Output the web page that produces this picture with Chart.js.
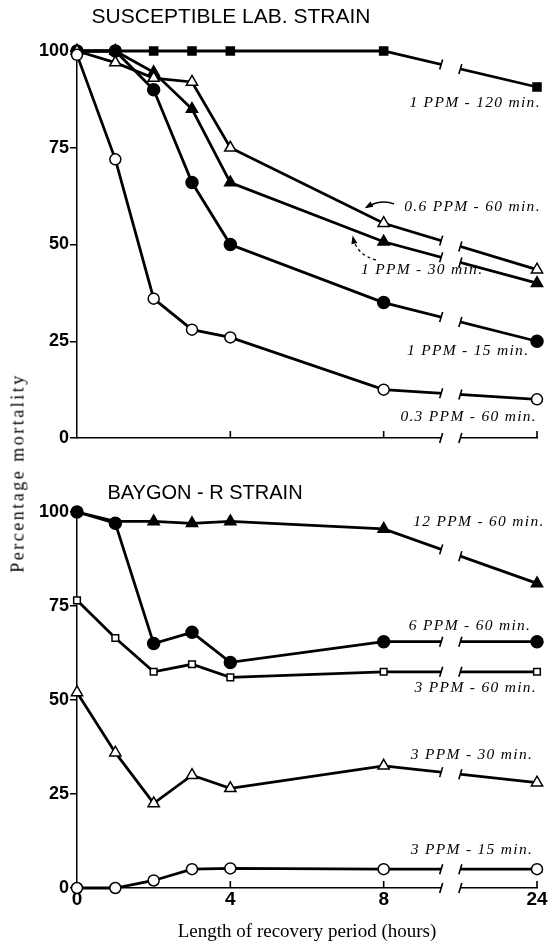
<!DOCTYPE html>
<html>
<head>
<meta charset="utf-8">
<script src="https://cdn.jsdelivr.net/npm/chart.js@4"></script>
<style>
  body { margin: 0; background: #fff; }
  #wrap { position: relative; width: 548px; height: 943px; }
  #c1 { position: absolute; left: 0; top: 0; }
  #c2 { position: absolute; left: 0; top: 470px; }
  #ytitle {
    position: absolute; left: 18px; top: 473px;
    transform: translate(-50%, -50%) rotate(-90deg);
    font: 18px "Liberation Serif", serif; letter-spacing: 2.5px; white-space: nowrap; color: #000;
  }
</style>
</head>
<body>
<div id="wrap">
  <canvas id="c1" width="548" height="470"></canvas>
  <canvas id="c2" width="548" height="473"></canvas>
  <div id="ytitle">Percentage mortality</div>
</div>
<script>
// recovery times (hours); 24 h sits after the axis break
const hours = [0, 1, 2, 3, 4, 8, 24];
const xTickHours = [0, 4, 8, 24];
const xTickLabels = ["0", "4", "8", "24"];
const yTicks = [0, 25, 50, 75, 100];

// susceptible lab. strain, % mortality
const lab03_60 = [99, 72, 36, 28, 26, 12.5, 10];
const lab06_60 = [100, 97, 93, 92, 75, 55.5, 43.5];
const lab1_30 = [100, 100, 94.5, 85, 66, 50.7, 40];
const lab1_15 = [100, 100, 90, 66, 50, 35, 25];
const lab1_120 = [100, 100, 100, 100, 100, 100, 90.7];
const labNotes = ["0.3 PPM - 60 min.", "0.6 PPM - 60 min.", "1 PPM - 30 min.", "1 PPM - 15 min.", "1 PPM - 120 min."];

// baygon-R strain, % mortality
const bay6_60 = [100, 97, 65, 68, 60, 65.5, 65.5];
const bay12_60 = [100, 97.5, 97.5, 97, 97.5, 95.5, 81];
const bay3_60 = [76.5, 66.5, 57.5, 59.5, 56, 57.5, 57.5];
const bay3_30 = [52, 36, 22.5, 30, 26.5, 32.5, 28];
const bay3_15 = [0, 0, 2, 5, 5.2, 5, 5];
const bayNotes = ["6 PPM - 60 min.", "12 PPM - 60 min.", "3 PPM - 60 min.", "3 PPM - 30 min.", "3 PPM - 15 min."];

const BREAK_AT = [9.5, 10];             // cut in the time axis (plot units)
const axisPos = h => (h > 8 ? h - 12 : h); // 24 h is drawn at plot position 12

const pts = vals => hours.map((h, i) => ({ x: axisPos(h), y: vals[i] }));

function series(vals, style, radius, filled, extra) {
  return Object.assign({
    data: pts(vals),
    borderColor: "#000",
    borderWidth: 2.8,
    pointStyle: style,
    pointRadius: radius,
    pointBorderWidth: 1.5,
    pointBorderColor: "#000",
    pointBackgroundColor: filled ? "#000" : "#fff",
    clip: false,
  }, extra || {});
}

// white-out the gap and mark the cut ends of every line and the axis
const cutPlugin = {
  id: "cut",
  afterDatasetsDraw(chart) {
    const { ctx, chartArea: a, scales: { x } } = chart;
    const x1 = x.getPixelForValue(BREAK_AT[0]);
    const x2 = x.getPixelForValue(BREAK_AT[1]);
    ctx.save();
    ctx.fillStyle = "#fff";
    ctx.fillRect(x1, a.top - 14, x2 - x1, a.bottom - a.top + 18);
    ctx.strokeStyle = "#000";
    ctx.lineWidth = 1.6;
    const slash = (px, py) => {
      ctx.beginPath();
      ctx.moveTo(px - 1.5, py + 5);
      ctx.lineTo(px + 1.5, py - 5);
      ctx.stroke();
    };
    chart.data.datasets.forEach((ds, i) => {
      const el = chart.getDatasetMeta(i).data;
      const p = el[el.length - 2], q = el[el.length - 1];
      [x1, x2].forEach(px => slash(px, p.y + (q.y - p.y) * (px - p.x) / (q.x - p.x)));
    });
    slash(x1, a.bottom);
    slash(x2, a.bottom);
    // time ticks point up into the plot
    x.ticks.forEach((t, i) => {
      if (t.value === 0) return;
      const px = x.getPixelForTick(i);
      ctx.beginPath();
      ctx.moveTo(px, a.bottom);
      ctx.lineTo(px, a.bottom - 7);
      ctx.stroke();
    });
    ctx.restore();
  },
};

// panel title, curve labels and pointer arrows
const notesPlugin = {
  id: "notes",
  afterDraw(chart, args, o) {
    const { ctx, scales: { x, y } } = chart;
    const P = ([h, v]) => [x.getPixelForValue(h), y.getPixelForValue(v)];
    ctx.save();
    ctx.fillStyle = "#000";
    ctx.strokeStyle = "#000";
    ctx.font = 'italic 15.5px "Liberation Serif"';
    ctx.letterSpacing = "1.3px";
    ctx.textAlign = "right";
    ctx.textBaseline = "middle";
    o.texts.forEach((t, i) => {
      const [px, py] = P(o.spots[i]);
      ctx.fillText(t, px, py);
    });
    (o.arrows || []).forEach(ar => {
      const [sx, sy] = P(ar.from), [cx, cy] = P(ar.via), [ex, ey] = P(ar.to);
      ctx.lineWidth = 1.3;
      ctx.setLineDash(ar.dashed ? [3, 3] : []);
      ctx.beginPath();
      ctx.moveTo(sx, sy);
      ctx.quadraticCurveTo(cx, cy, ex, ey);
      ctx.stroke();
      ctx.setLineDash([]);
      const ang = Math.atan2(ey - cy, ex - cx);
      ctx.beginPath();
      ctx.moveTo(ex + Math.cos(ang) * 2, ey + Math.sin(ang) * 2);
      ctx.lineTo(ex - Math.cos(ang - 0.45) * 7, ey - Math.sin(ang - 0.45) * 7);
      ctx.lineTo(ex - Math.cos(ang + 0.45) * 7, ey - Math.sin(ang + 0.45) * 7);
      ctx.closePath();
      ctx.fill();
    });
    ctx.letterSpacing = "0px";
    ctx.font = o.titleFont;
    ctx.textAlign = "center";
    ctx.fillText(o.title, o.titleX, o.titleY);
    ctx.restore();
  },
};

function options(showX, padTop, xHeight, notes) {
  return {
    responsive: false,
    animation: false,
    layout: { padding: { top: padTop, right: 11, left: 0, bottom: 0 } },
    plugins: { legend: { display: false }, tooltip: { enabled: false }, notes },
    scales: {
      x: {
        type: "linear", min: 0, max: 12,
        afterBuildTicks: s => { s.ticks = xTickHours.map(h => ({ value: axisPos(h) })); },
        afterFit: s => { s.height = xHeight; },
        border: { display: true, color: "#000", width: 1.5 },
        grid: { display: false, drawTicks: false },
        ticks: {
          display: showX, padding: 0, color: "#000", maxRotation: 0,
          font: { family: "Liberation Sans", weight: "bold", size: 19 },
          callback: v => xTickLabels[xTickHours.map(axisPos).indexOf(v)],
        },
        title: {
          display: showX, text: "Length of recovery period (hours)", color: "#000",
          padding: { top: 0, bottom: 0 },
          font: { family: "Liberation Serif", size: 19 },
        },
      },
      y: {
        min: 0, max: 100,
        afterBuildTicks: s => { s.ticks = yTicks.map(v => ({ value: v })); },
        afterFit: s => { s.width = 77; },
        border: { display: true, color: "#000", width: 1.5 },
        grid: { drawOnChartArea: false, drawTicks: true, tickLength: 7, color: "#000", lineWidth: 1.5 },
        ticks: { padding: 1, color: "#000", font: { family: "Liberation Sans", weight: "bold", size: 18 } },
      },
    },
  };
}

new Chart(document.getElementById("c1"), {
  type: "line",
  data: {
    datasets: [
      series(lab03_60, "circle", 5.5, false),
      series(lab06_60, "triangle", 6.5, false),
      series(lab1_30, "triangle", 6.5, true),
      series(lab1_15, "circle", 6, true),
      series(lab1_120, "rect", 5.7, true),
    ],
  },
  options: options(false, 51, 32, {
    title: "SUSCEPTIBLE LAB. STRAIN", titleX: 231, titleY: 17, titleFont: '21px "Liberation Sans"',
    texts: labNotes,
    spots: [[12, 5.5], [12.1, 59.7], [10.6, 43.5], [11.8, 22.5], [12.1, 86.5]],
    arrows: [
      { from: [8.27, 60.5], via: [7.93, 61.8], to: [7.55, 59.6] },
      { from: [7.8, 46], via: [7.3, 47.3], to: [7.2, 51.8], dashed: true },
    ],
  }),
  plugins: [cutPlugin, notesPlugin],
});

new Chart(document.getElementById("c2"), {
  type: "line",
  data: {
    datasets: [
      series(bay6_60, "circle", 6, true),
      series(bay12_60, "triangle", 6.5, true, { pointRadius: [0, 0, 6.5, 6.5, 6.5, 6.5, 6.5] }),
      series(bay3_60, "rect", 4.7, false),
      series(bay3_30, "triangle", 6.5, false),
      series(bay3_15, "circle", 5.5, false),
    ],
  },
  options: options(true, 42, 55, {
    title: "BAYGON - R STRAIN", titleX: 205, titleY: 23, titleFont: '20px "Liberation Sans"',
    texts: bayNotes,
    spots: [[11.85, 69.6], [12.2, 97.3], [12, 53.3], [11.9, 35.4], [11.9, 10]],
  }),
  plugins: [cutPlugin, notesPlugin],
});
</script>
</body>
</html>
